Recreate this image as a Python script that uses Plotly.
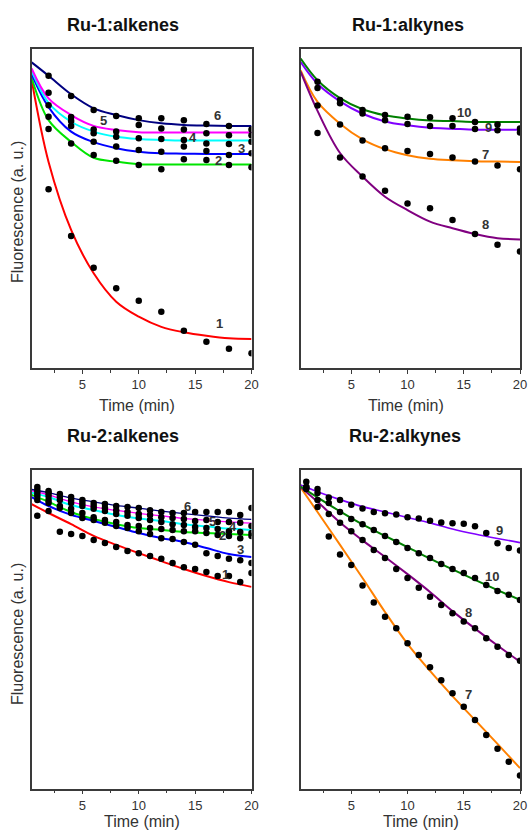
import plotly.graph_objects as go

W, H = 529, 831

# ---------------- data (fluorescence in a.u., 0-100 scale) ----------------
T_FIT = [0.5, 2, 4, 6, 8, 10, 12, 14, 16, 18, 20]
T_EVEN = [2, 4, 6, 8, 10, 12, 14, 16, 18, 20]
T_ALL = list(range(1, 21))

# Ru-1 : alkenes (1-6)
A_FIT_1 = [90.3, 64.6, 43.3, 29.7, 20.8, 16.1, 12.9, 11.2, 10.1, 9.3, 9.1]
A_FIT_2 = [91.0, 77.7, 70.9, 65.9, 64.7, 63.9, 63.8, 63.8, 63.8, 63.8, 63.8]
A_FIT_3 = [92.1, 81.8, 74.1, 70.8, 68.9, 67.8, 67.3, 67.2, 67.1, 67.1, 67.1]
A_FIT_4 = [93.1, 83.1, 77.2, 74.1, 72.5, 71.8, 71.5, 71.3, 71.3, 71.3, 71.3]
A_FIT_5 = [93.9, 84.5, 79.3, 75.9, 74.6, 73.9, 73.8, 73.8, 73.8, 73.8, 73.8]
A_FIT_6 = [95.8, 91.6, 85.8, 81.4, 79.3, 77.7, 76.7, 76.2, 76.0, 75.9, 75.9]
A_PTS_1 = [56.0, 41.4, 31.4, 25.0, 21.1, 17.6, 11.7, 8.2, 6.0, 4.6]
A_PTS_2 = [74.9, 70.4, 66.8, 65.0, 63.6, 62.3, 65.4, 65.2, 63.6, 62.9]
A_PTS_3 = [78.8, 75.9, 70.9, 69.4, 68.3, 67.8, 69.4, 68.0, 66.8, 67.3]
A_PTS_4 = [82.4, 77.4, 73.6, 72.5, 72.0, 71.8, 71.5, 70.4, 70.2, 70.9]
A_PTS_5 = [86.3, 78.7, 74.8, 74.1, 76.2, 75.1, 74.8, 73.6, 73.0, 73.0]
A_PTS_6 = [91.6, 85.3, 80.9, 79.0, 78.3, 78.3, 77.7, 76.5, 75.9, 74.8]
A_LAB = ["1", "2", "3", "4", "5", "6"]
A_LAB_T = [17.2, 17.1, 19.1, 14.8, 6.9, 17.0]
A_LAB_V = [14.0, 64.9, 68.9, 72.3, 77.7, 79.0]

# Ru-1 : alkynes (7-10)
B_FIT_7 = [93.3, 83.4, 76.6, 71.7, 68.6, 66.7, 65.6, 65.1, 64.8, 64.7, 64.6]
B_FIT_8 = [92.9, 80.6, 67.4, 60.0, 53.7, 49.5, 45.9, 43.8, 42.0, 40.7, 40.3]
B_FIT_9 = [95.9, 89.1, 83.6, 79.7, 77.3, 76.1, 75.3, 75.0, 74.7, 74.7, 74.7]
B_FIT_10 = [97.0, 90.2, 84.6, 81.1, 79.2, 78.2, 77.6, 77.4, 77.1, 77.1, 77.1]
B_PTS_7 = [82.3, 76.3, 71.3, 68.9, 68.0, 67.1, 66.0, 64.7, 63.5, 62.3]
B_PTS_8 = [73.7, 66.0, 60.0, 55.6, 51.6, 50.1, 46.4, 42.0, 38.6, 36.5]
B_PTS_9 = [87.8, 83.0, 79.8, 77.7, 76.5, 75.9, 75.9, 74.9, 74.5, 73.8]
B_PTS_10 = [89.7, 84.0, 80.9, 79.3, 78.8, 78.6, 78.3, 77.1, 76.3, 75.1]
B_LAB = ["7", "8", "9", "10"]
B_LAB_T = [16.9, 16.9, 17.2, 15.0]
B_LAB_V = [66.8, 45.0, 75.5, 80.0]

# Ru-2 : alkenes (1-6)
C_FIT_1 = [89.3, 86.5, 83.0, 79.3, 76.5, 73.9, 71.4, 68.9, 66.7, 64.8, 63.3]
C_FIT_2 = [92.2, 90.0, 86.8, 84.6, 83.0, 81.8, 81.2, 80.5, 80.2, 79.9, 79.6]
C_FIT_3 = [91.5, 88.7, 85.9, 84.0, 82.1, 80.2, 78.6, 77.4, 75.5, 73.6, 72.7]
C_FIT_4 = [92.9, 91.5, 89.0, 87.4, 85.9, 84.8, 84.0, 83.0, 82.3, 81.6, 81.2]
C_FIT_5 = [93.5, 92.2, 90.0, 88.4, 87.3, 86.4, 85.6, 84.8, 84.2, 83.7, 83.3]
C_FIT_6 = [93.9, 92.9, 91.2, 90.0, 88.9, 88.0, 87.1, 86.3, 85.6, 84.9, 84.5]
C_PTS_1 = [85.6, 87.1, 80.6, 79.9, 79.3, 78.0, 77.1, 75.8, 74.6, 73.9,
           73.0, 72.1, 70.8, 69.5, 68.9, 68.0, 66.7, 66.7, 64.8, 67.7]
C_PTS_2 = [91.8, 90.6, 88.7, 87.8, 86.5, 85.2, 84.3, 83.7, 82.7, 82.4,
           81.8, 81.5, 81.2, 80.8, 80.8, 80.2, 79.6, 79.3, 78.6, 79.3]
C_PTS_3 = [90.6, 89.6, 88.1, 86.5, 84.9, 84.3, 83.4, 82.4, 81.8, 80.8,
           79.9, 78.6, 78.3, 77.4, 76.5, 73.9, 73.0, 72.1, 71.7, 70.8]
C_PTS_4 = [92.8, 91.8, 90.6, 89.6, 88.7, 87.8, 87.1, 86.2, 85.6, 84.9,
           84.3, 83.7, 83.0, 82.7, 82.1, 81.8, 81.5, 80.8, 80.5, 80.2]
C_PTS_5 = [93.7, 92.8, 91.5, 90.6, 89.6, 88.7, 88.1, 87.4, 86.8, 86.2,
           85.9, 85.2, 84.9, 84.6, 84.0, 84.3, 83.7, 83.7, 83.4, 82.4]
C_PTS_6 = [94.7, 93.4, 92.5, 91.5, 90.6, 89.6, 89.3, 88.7, 88.4, 88.1,
           87.4, 86.8, 86.5, 86.5, 86.8, 86.8, 86.8, 86.8, 85.9, 88.1]
C_LAB = ["1", "2", "3", "4", "5", "6"]
C_LAB_T = [17.7, 17.4, 19.0, 18.4, 16.5, 14.3]
C_LAB_V = [67.3, 79.3, 75.1, 82.4, 83.8, 88.5]

# Ru-2 : alkynes (7-10)
D_FIT_7 = [94.5, 86.8, 76.5, 66.1, 55.4, 45.4, 36.9, 29.0, 21.5, 14.0, 6.4]
D_FIT_8 = [94.6, 90.0, 83.5, 77.9, 72.7, 67.3, 61.7, 55.7, 50.2, 44.9, 39.8]
D_FIT_9 = [95.3, 93.2, 90.7, 88.5, 86.8, 85.1, 83.4, 81.5, 79.9, 78.5, 77.2]
D_FIT_10 = [94.8, 91.4, 87.0, 82.9, 79.3, 75.8, 72.2, 68.8, 65.5, 62.3, 59.2]
D_PTS_7 = [94.7, 88.4, 79.1, 73.5, 70.2, 63.7, 58.4, 53.9, 50.3, 45.6,
           41.9, 38.1, 34.0, 29.9, 25.7, 21.5, 16.8, 12.5, 8.4, 4.1]
D_PTS_8 = [94.0, 90.6, 86.2, 83.4, 80.8, 78.0, 74.9, 72.4, 68.9, 66.1,
           63.0, 60.2, 57.6, 55.0, 52.4, 50.3, 47.2, 44.5, 41.9, 40.1]
D_PTS_9 = [96.3, 94.0, 91.4, 90.6, 89.1, 87.9, 86.8, 86.4, 86.0, 85.2,
           84.8, 84.1, 83.5, 83.3, 83.1, 82.3, 80.2, 77.0, 75.5, 74.7]
D_PTS_10 = [94.7, 92.8, 89.6, 86.8, 84.6, 83.0, 81.2, 79.3, 77.4, 75.5,
            73.9, 72.4, 70.5, 68.9, 67.7, 66.1, 63.9, 62.0, 60.8, 59.2]
D_LAB = ["7", "8", "9", "10"]
D_LAB_T = [15.4, 15.4, 18.2, 17.5]
D_LAB_V = [29.4, 55.2, 80.9, 66.7]

TITLES = ["Ru-1:alkenes", "Ru-1:alkynes", "Ru-2:alkenes", "Ru-2:alkynes"]
X_TICKS = [5, 10, 15, 20]
X_TITLE = "Time (min)"
Y_TITLE = "Fluorescence (a. u.)"

# ---------------- styling / layout ----------------
COL = {"1": "#FF0000", "2": "#00E400", "3": "#0000FF", "4": "#00FFFF",
       "5": "#FF00FF", "6": "#000080", "7": "#FF8000", "8": "#800080",
       "9": "#8000FF", "10": "#008000"}
FONT = "Liberation Sans, Arial, sans-serif"
AX = "#3a3a3a"

# panel pixel boxes: (left, right, top, bottom)
BOX = [(32, 251.5, 49, 368), (301, 520, 49, 368),
       (32, 251.5, 470, 788.5), (301, 520, 470, 788.5)]

fig = go.Figure()

panels = [
    (["1", "2", "3", "4", "5", "6"],
     [A_FIT_1, A_FIT_2, A_FIT_3, A_FIT_4, A_FIT_5, A_FIT_6],
     T_EVEN, [A_PTS_1, A_PTS_2, A_PTS_3, A_PTS_4, A_PTS_5, A_PTS_6],
     A_LAB, A_LAB_T, A_LAB_V, {}),
    (["7", "8", "9", "10"],
     [B_FIT_7, B_FIT_8, B_FIT_9, B_FIT_10],
     T_EVEN, [B_PTS_7, B_PTS_8, B_PTS_9, B_PTS_10],
     B_LAB, B_LAB_T, B_LAB_V, {}),
    (["1", "2", "3", "4", "5", "6"],
     [C_FIT_1, C_FIT_2, C_FIT_3, C_FIT_4, C_FIT_5, C_FIT_6],
     T_ALL, [C_PTS_1, C_PTS_2, C_PTS_3, C_PTS_4, C_PTS_5, C_PTS_6],
     C_LAB, C_LAB_T, C_LAB_V, {"5": 1.3, "6": 1.3}),
    (["7", "8", "9", "10"],
     [D_FIT_7, D_FIT_8, D_FIT_9, D_FIT_10],
     T_ALL, [D_PTS_7, D_PTS_8, D_PTS_9, D_PTS_10],
     D_LAB, D_LAB_T, D_LAB_V, {"9": 1.6}),
]

annotations = []
for i, (names, fits, tp, pts, lab, lab_t, lab_v, thin) in enumerate(panels):
    n = i + 1
    xa = "x" if n == 1 else f"x{n}"
    ya = "y" if n == 1 else f"y{n}"
    for name, fy in zip(names, fits):
        fig.add_trace(go.Scatter(
            x=T_FIT, y=fy, mode="lines", xaxis=xa, yaxis=ya,
            line=dict(color=COL[name], width=thin.get(name, 2.0), shape="spline"),
            showlegend=False, hoverinfo="skip"))
    for name, py in zip(names, pts):
        fig.add_trace(go.Scatter(
            x=tp, y=py, mode="markers", xaxis=xa, yaxis=ya,
            marker=dict(color="black", size=6.5, line=dict(width=0)),
            showlegend=False, name=name))
    for txt, lt, lv in zip(lab, lab_t, lab_v):
        annotations.append(dict(
            x=lt, y=lv, xref=xa, yref=ya, text=f"<b>{txt}</b>",
            xanchor="center", yanchor="middle",
            showarrow=False, font=dict(family=FONT, size=13, color="#333333")))

    l, r, t, b = BOX[i]
    xkey = "xaxis" if n == 1 else f"xaxis{n}"
    ykey = "yaxis" if n == 1 else f"yaxis{n}"
    fig.update_layout(**{
        xkey: dict(domain=[l / W, r / W], anchor=ya, range=[0.53, 20],
                   tickvals=X_TICKS, ticks="outside", ticklen=4, tickwidth=1.3,
                   tickcolor=AX, showline=True, linecolor=AX, linewidth=1.6,
                   mirror=True, showgrid=False, zeroline=False,
                   tickfont=dict(family=FONT, size=13, color="#333333"),
                   minor=dict(tickvals=[2.5, 7.5, 12.5, 17.5], ticks="outside",
                              ticklen=3, tickcolor=AX, tickwidth=1.2)),
        ykey: dict(domain=[1 - b / H, 1 - t / H], anchor=xa, range=[0, 100],
                   showticklabels=False, ticks="", showline=True, linecolor=AX,
                   linewidth=1.6, mirror=True, showgrid=False, zeroline=False),
    })

def paper_text(txt, px, py, size, color, angle=0):
    return dict(x=px / W, y=1 - py / H, xref="paper", yref="paper",
                xanchor="center", yanchor="middle", text=txt, showarrow=False,
                textangle=angle, font=dict(family=FONT, size=size, color=color))

TITLE_POS = [(123, 25), (408, 25), (123, 436), (405, 436)]
for txt, (px, py) in zip(TITLES, TITLE_POS):
    annotations.append(paper_text(f"<b>{txt}</b>", px, py, 18, "#111111"))
XT_POS = [(137, 405), (406, 405), (142, 821), (421, 821)]
for px, py in XT_POS:
    annotations.append(paper_text(X_TITLE, px, py, 16, "#333333"))
for px, py in [(17, 212), (17, 634)]:
    annotations.append(paper_text(Y_TITLE, px, py, 16, "#333333", -90))

fig.update_layout(width=W, height=H, autosize=False,
                  margin=dict(l=0, r=0, t=0, b=0, autoexpand=False),
                  paper_bgcolor="white", plot_bgcolor="white",
                  annotations=annotations)

fig.write_html(
    "out.html",
    config={"responsive": False, "displayModeBar": False},
    post_script=("document.body.style.margin='0';"
                 "document.body.style.overflow='hidden';"
                 "Plotly.relayout('{plot_id}', {width: %d, height: %d});" % (W, H)))
